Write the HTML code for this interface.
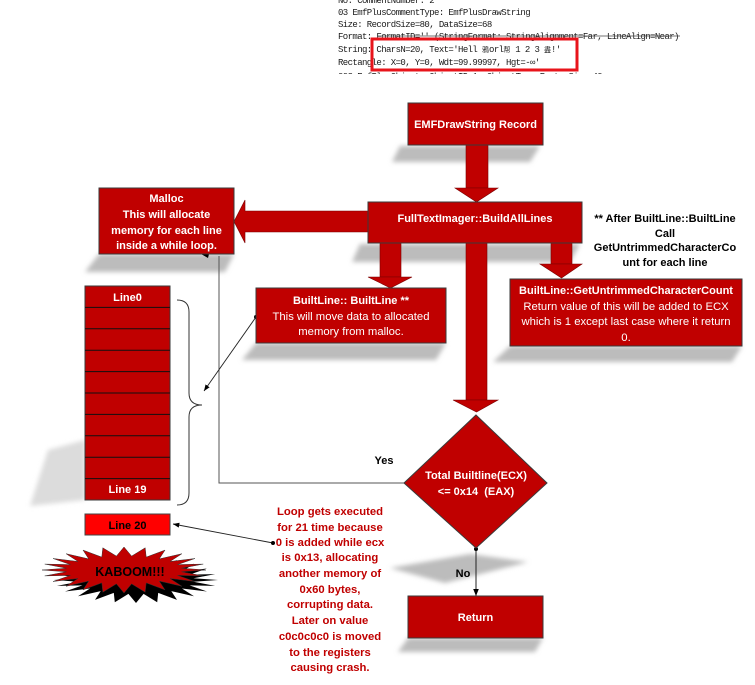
<!DOCTYPE html>
<html><head><meta charset="utf-8">
<style>
html,body{margin:0;padding:0;background:#fff;}
svg{display:block;}
.b{font-family:"Liberation Sans",Arial,sans-serif;font-weight:bold;font-size:11px;}
.r{font-family:"Liberation Sans",Arial,sans-serif;font-size:11.3px;}
.w{fill:#fff;}
.m{font-family:"Liberation Mono","Noto Sans CJK SC",monospace;font-size:9px;letter-spacing:-0.6px;fill:#1a1a1a;}
</style></head>
<body>
<svg width="755" height="685" viewBox="0 0 755 685" xmlns="http://www.w3.org/2000/svg">
<defs>
<filter id="bl" x="-20%" y="-50%" width="140%" height="200%"><feGaussianBlur stdDeviation="2.5"/></filter>
<marker id="ah" viewBox="0 0 10 10" refX="10" refY="5" markerWidth="7" markerHeight="7" orient="auto-start-reverse"><path d="M0,1 L10,5 L0,9 z" fill="#000"/></marker>
<clipPath id="cp"><rect x="0" y="0" width="755" height="74"/></clipPath>
</defs>
<rect width="755" height="685" fill="#fff"/>

<!-- top code text -->
<g clip-path="url(#cp)">
<text class="m" x="338" y="3" fill="#555">No: CommentNumber: 2</text>
<text class="m" x="338" y="15">03 EmfPlusCommentType: EmfPlusDrawString</text>
<text class="m" x="338" y="27">Size: RecordSize=80, DataSize=68</text>
<text class="m" x="338" y="39">Format: FormatID='' (StringFormat: StringAlignment=Far, LineAlign=Near)</text>
<line x1="377" y1="36" x2="680" y2="36" stroke="#444" stroke-width="0.8"/>
<text class="m" x="338" y="52" xml:space="preserve">String: CharsN=20, Text='Hell <tspan font-size="7" letter-spacing="0">鴉</tspan>orl<tspan font-size="7" letter-spacing="0">帮</tspan> 1 2 3 <tspan font-size="7" letter-spacing="0">盡</tspan>!'</text>
<text class="m" x="338" y="65">Rectangle: X=0, Y=0, Wdt=99.99997, Hgt=-∞'</text>
<text class="m" x="338" y="79" fill="#444">003 EmfPlusObject: ObjectID=1, ObjectType=Font, Size=40</text>
</g>
<rect x="372" y="39" width="205" height="31" fill="none" stroke="#e8141b" stroke-width="3"/>

<!-- shadows -->
<g fill="#bcbcbc" filter="url(#bl)">
<polygon points="400,146 540,146 530,162 392,162"/>
<polygon points="360,244 580,244 570,262 352,262"/>
<polygon points="99,254 234,254 225,272 85,272"/>
<polygon points="85,440 85,500 30,506 48,450" fill="#dcdcdc"/>
<polygon points="256,343 446,343 436,360 242,360"/>
<polygon points="510,346 742,346 732,362 493,362"/>
<polygon points="390,568 470,554 528,562 445,583"/>
<polygon points="408,638 543,638 535,652 398,652"/>
</g>

<!-- connectors -->
<polyline points="404,483 219,483 219,256" fill="none" stroke="#555" stroke-width="1"/>
<polygon points="201,254 209,254 208,258" fill="#000"/>
<path d="M177,300 Q189,300 189,312 L189,393 Q189,405 202,405 Q189,405 189,417 L189,493 Q189,505 177,505" fill="none" stroke="#333" stroke-width="1"/>
<line x1="256" y1="317" x2="204" y2="391" stroke="#222" stroke-width="0.9" marker-end="url(#ah)"/>
<circle cx="256" cy="317" r="2" fill="#000"/>
<line x1="273" y1="543" x2="173" y2="524" stroke="#222" stroke-width="0.9" marker-end="url(#ah)"/>
<circle cx="273" cy="543" r="2" fill="#000"/>
<line x1="476" y1="549" x2="476" y2="596" stroke="#222" stroke-width="1" marker-end="url(#ah)"/>
<circle cx="476" cy="549" r="2" fill="#000"/>

<!-- big arrows -->
<g fill="#c00000" stroke="#7a0000" stroke-width="0.6">
<rect x="466" y="145" width="22" height="43"/>
<polygon points="455,188 498,188 476.5,202"/>
<polygon points="370,211 245,211 245,200 234,221.5 245,243 245,232 370,232"/>
<rect x="380" y="243" width="21" height="34"/>
<polygon points="368,277 412,277 390.5,288"/>
<rect x="551" y="243" width="21" height="21"/>
<polygon points="540,264 582,264 561.5,278"/>
<rect x="466" y="243" width="21" height="157"/>
<polygon points="453,400 498,400 476.5,412"/>
</g>

<!-- boxes -->
<g fill="#c00000" stroke="#3a3a3a" stroke-width="1">
<rect x="408" y="103" width="135" height="42"/>
<rect x="368" y="202" width="214" height="41"/>
<rect x="99" y="188" width="135" height="66"/>
<rect x="256" y="288" width="190" height="55"/>
<rect x="510" y="279" width="232" height="67"/>
<polygon points="476,415 547,483 476,548 404,483"/>
<rect x="408" y="596" width="135" height="42"/>
<rect x="85" y="286" width="85" height="214"/>
</g>
<g stroke="#111" stroke-width="1">
<line x1="85" y1="307.4" x2="170" y2="307.4"/>
<line x1="85" y1="328.8" x2="170" y2="328.8"/>
<line x1="85" y1="350.2" x2="170" y2="350.2"/>
<line x1="85" y1="371.6" x2="170" y2="371.6"/>
<line x1="85" y1="393" x2="170" y2="393"/>
<line x1="85" y1="414.4" x2="170" y2="414.4"/>
<line x1="85" y1="435.8" x2="170" y2="435.8"/>
<line x1="85" y1="457.2" x2="170" y2="457.2"/>
<line x1="85" y1="478.6" x2="170" y2="478.6"/>
</g>
<rect x="85" y="514" width="85" height="21" fill="#ff0000" stroke="#444" stroke-width="1"/>

<!-- KABOOM -->
<g transform="translate(12,10)">
<polygon fill="#000" points="206,570 181.5,571.8 203.2,575.9 177.6,575.4 195,581.5 170,578.5 182,586.3 159.3,581.1 165,589.9 146.2,582.9 145.2,592.2 131.6,583.9 124,593 116.4,583.9 102.8,592.2 101.8,582.9 83,589.9 88.7,581.1 66,586.3 78,578.5 53,581.5 70.4,575.4 44.8,575.9 66.5,571.8 42,570 66.5,568.2 44.8,564.1 70.4,564.6 53,558.5 78,561.5 66,553.7 88.7,558.9 83,550.1 101.8,557.1 102.8,547.8 116.4,556.1 124,547 131.6,556.1 145.2,547.8 146.2,557.1 165,550.1 159.3,558.9 182,553.7 170,561.5 195,558.5 177.6,564.6 203.2,564.1 181.5,568.2"/>
</g>
<polygon fill="#c00000" stroke="#333" stroke-width="0.5" points="206,570 181.5,571.8 203.2,575.9 177.6,575.4 195,581.5 170,578.5 182,586.3 159.3,581.1 165,589.9 146.2,582.9 145.2,592.2 131.6,583.9 124,593 116.4,583.9 102.8,592.2 101.8,582.9 83,589.9 88.7,581.1 66,586.3 78,578.5 53,581.5 70.4,575.4 44.8,575.9 66.5,571.8 42,570 66.5,568.2 44.8,564.1 70.4,564.6 53,558.5 78,561.5 66,553.7 88.7,558.9 83,550.1 101.8,557.1 102.8,547.8 116.4,556.1 124,547 131.6,556.1 145.2,547.8 146.2,557.1 165,550.1 159.3,558.9 182,553.7 170,561.5 195,558.5 177.6,564.6 203.2,564.1 181.5,568.2"/>
<text x="130" y="576" text-anchor="middle" font-family="Liberation Sans,Arial,sans-serif" font-weight="bold" font-size="12.5" fill="#000">KABOOM!!!</text>

<!-- box texts -->
<g text-anchor="middle">
<text class="b w" x="475.5" y="128">EMFDrawString Record</text>
<text class="b w" x="475" y="222">FullTextImager::BuildAllLines</text>
<text class="b w" x="166.5" y="202">Malloc</text>
<text class="b w" x="166.5" y="218">This will allocate</text>
<text class="b w" x="166.5" y="234">memory for each line</text>
<text class="b w" x="166.5" y="249">inside a while loop.</text>
<text class="b w" x="351" y="304">BuiltLine:: BuiltLine **</text>
<text class="r w" x="351" y="320">This will move data to allocated</text>
<text class="r w" x="351" y="335">memory from malloc.</text>
<text class="b w" x="626" y="294">BuiltLine::GetUntrimmedCharacterCount</text>
<text class="r w" x="626" y="310">Return value of this will be added to ECX</text>
<text class="r w" x="626" y="325">which is 1 except last case where it return</text>
<text class="r w" x="626" y="341">0.</text>
<text class="b" x="665" y="222" fill="#000">** After BuiltLine::BuiltLine</text>
<text class="b" x="665" y="237" fill="#000">Call</text>
<text class="b" x="665" y="251" fill="#000">GetUntrimmedCharacterCo</text>
<text class="b" x="665" y="266" fill="#000">unt for each line</text>
<text class="b w" x="476" y="479">Total Builtline(ECX)</text>
<text class="b w" x="476" y="495" xml:space="preserve">&lt;= 0x14  (EAX)</text>
<text class="b" x="384" y="464" fill="#000">Yes</text>
<text class="b" x="463" y="577" fill="#000">No</text>
<text class="b w" x="475.5" y="621">Return</text>
<text class="b w" x="127.5" y="301">Line0</text>
<text class="b w" x="127.5" y="493">Line 19</text>
<text class="b" x="127.5" y="529" fill="#000">Line 20</text>
</g>
<g text-anchor="middle" fill="#c00000" font-family="Liberation Sans,Arial,sans-serif" font-weight="bold" font-size="11.3">
<text x="330" y="515">Loop gets executed</text>
<text x="330" y="531">for 21 time because</text>
<text x="330" y="546">0 is added while ecx</text>
<text x="330" y="561">is 0x13, allocating</text>
<text x="330" y="577">another memory of</text>
<text x="330" y="593">0x60 bytes,</text>
<text x="330" y="608">corrupting data.</text>
<text x="330" y="624">Later on value</text>
<text x="330" y="640">c0c0c0c0 is moved</text>
<text x="330" y="656">to the registers</text>
<text x="330" y="671">causing crash.</text>
</g>
</svg>
</body></html>
